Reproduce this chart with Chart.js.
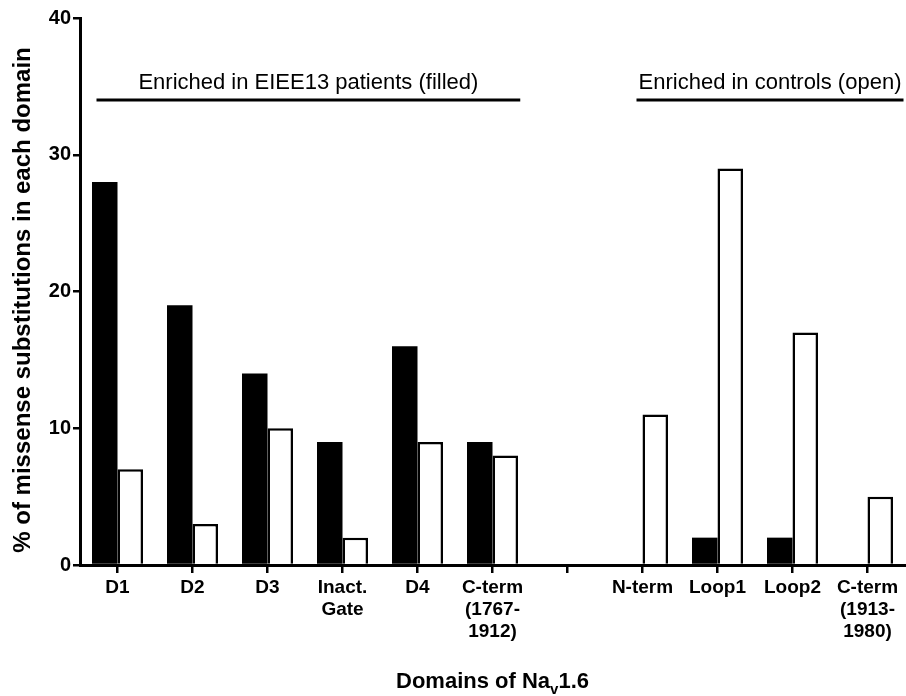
<!DOCTYPE html>
<html>
<head>
<meta charset="utf-8">
<script src="https://cdn.jsdelivr.net/npm/chart.js@4.4.0/dist/chart.umd.min.js"></script>
<style>
  html, body { margin: 0; padding: 0; background: #fff; }
  #wrap { width: 906px; height: 696px; }
</style>
</head>
<body>
<div id="wrap"><canvas id="domainChart" width="906" height="696"></canvas></div>
<script>
// domains of Nav1.6 (the empty one is the break between the two groups)
const domains = [
    'D1', 'D2', 'D3', ['Inact.', 'Gate'], 'D4', ['C-term', '(1767-', '1912)'],
    '',
    'N-term', 'Loop1', 'Loop2', ['C-term', '(1913-', '1980)']
];

// % of missense substitutions, patients (filled) and controls (open)
const patients = [28, 19, 14, 9, 16, 9, null, 0, 2, 2, 0];
const controls = [7, 3, 10, 2, 9, 8, null, 11, 29, 17, 5];

const yTicks = [0, 10, 20, 30, 40];

const FONT = '"Liberation Sans", Arial, Helvetica, sans-serif';

// brackets above the bars: [label, from index, to index]
const groupNotes = [
    ['Enriched in EIEE13 patients (filled)', -0.28, 5.37],
    ['Enriched in controls (open)', 6.92, 10.48]
];

const notesPlugin = {
    id: 'notes',
    afterDraw(chart) {
        const ctx = chart.ctx;
        const x = chart.scales.x;
        const y = chart.scales.y;
        ctx.save();
        ctx.strokeStyle = '#000';
        ctx.fillStyle = '#000';
        ctx.lineWidth = 3;
        ctx.font = '22px ' + FONT;
        ctx.textAlign = 'center';
        ctx.textBaseline = 'alphabetic';
        groupNotes.forEach(([text, a, b]) => {
            const x1 = x.getPixelForValue(a);
            const x2 = x.getPixelForValue(b);
            const ly = y.getPixelForValue(34);
            ctx.beginPath();
            ctx.moveTo(x1, ly);
            ctx.lineTo(x2, ly);
            ctx.stroke();
            ctx.fillText(text, (x1 + x2) / 2, ly - 11);
        });

        // y axis title
        ctx.save();
        ctx.translate(23, 300);
        ctx.rotate(-Math.PI / 2);
        ctx.font = 'bold 24px ' + FONT;
        ctx.textBaseline = 'middle';
        ctx.fillText('% of missense substitutions in each domain', 0, 0);
        ctx.restore();

        // x axis title with subscript v
        const bold = 'bold 22px ' + FONT;
        const sub = 'bold 15px ' + FONT;
        const parts = [['Domains of Na', bold, 0], ['v', sub, 6], ['1.6', bold, 0]];
        let total = 0;
        parts.forEach(p => { ctx.font = p[1]; total += ctx.measureText(p[0]).width; });
        let cx = (x.left + x.right) / 2 - total / 2;
        ctx.textAlign = 'left';
        parts.forEach(p => {
            ctx.font = p[1];
            ctx.fillText(p[0], cx, 688 + p[2]);
            cx += ctx.measureText(p[0]).width;
        });
        ctx.restore();
    }
};

new Chart(document.getElementById('domainChart').getContext('2d'), {
    type: 'bar',
    data: {
        labels: domains,
        datasets: [{
            label: 'Patients',
            data: patients,
            backgroundColor: '#000',
            borderColor: '#000',
            borderWidth: 0
        }, {
            label: 'Controls',
            data: controls,
            backgroundColor: '#fff',
            borderColor: '#000',
            borderWidth: 2.5
        }]
    },
    options: {
        responsive: false,
        animation: false,
        layout: {
            padding: { left: 0, right: 1, top: 18, bottom: 0 }
        },
        plugins: {
            legend: { display: false },
            tooltip: { enabled: false }
        },
        datasets: {
            bar: {
                categoryPercentage: 0.68,
                barPercentage: 1
            }
        },
        scales: {
            x: {
                offset: true,
                grid: {
                    offset: false,
                    drawOnChartArea: false,
                    color: '#000',
                    lineWidth: 2.5,
                    tickLength: 8
                },
                border: { color: '#000', width: 3, z: 1 },
                ticks: {
                    color: '#000',
                    autoSkip: false,
                    maxRotation: 0,
                    padding: 4,
                    font: { family: FONT, size: 19, weight: 'bold', lineHeight: 1.16 }
                },
                afterFit(scale) { scale.height = 131; }
            },
            y: {
                min: 0,
                max: 40,
                afterBuildTicks(scale) {
                    scale.ticks = yTicks.map(v => ({ value: v }));
                },
                grid: {
                    drawOnChartArea: false,
                    color: '#000',
                    lineWidth: 2.5,
                    tickLength: 7
                },
                border: { color: '#000', width: 3, z: 1 },
                ticks: {
                    color: '#000',
                    padding: 2,
                    font: { family: FONT, size: 20, weight: 'bold' }
                },
                afterFit(scale) { scale.width = 80; }
            }
        }
    },
    plugins: [notesPlugin]
});
</script>
</body>
</html>
